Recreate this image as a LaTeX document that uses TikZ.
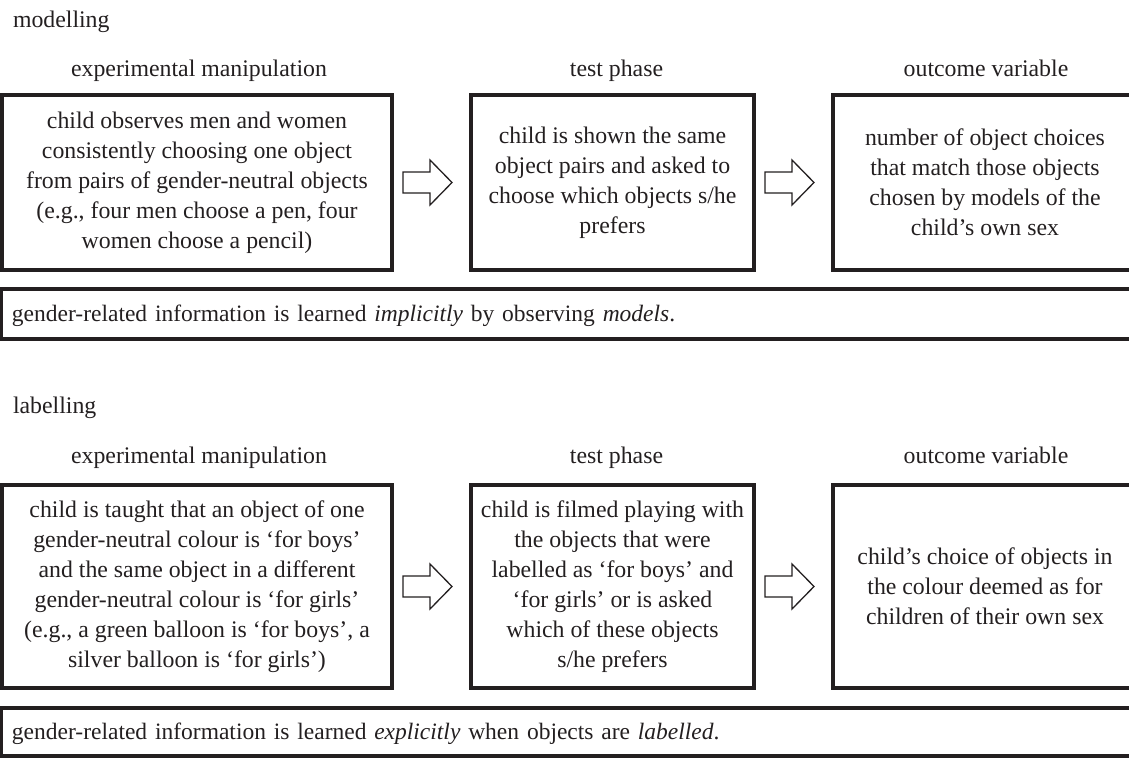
\documentclass[tikz,border=0pt]{standalone}
\usepackage{fontspec}
\setmainfont{Liberation Serif}
\usetikzlibrary{calc}
\definecolor{ink}{RGB}{35,31,32}
\begin{document}
\begin{tikzpicture}[x=1pt,y=-1pt,
  every node/.style={font=\fontsize{23.8}{30}\selectfont, text=ink, inner sep=0pt, outer sep=0pt},
  box/.style={draw=ink, line width=3.2pt, align=center},
  banner/.style={draw=ink, line width=3.2pt, anchor=west, align=left, text width=1117.5pt, inner xsep=10.5pt,
    font=\fontsize{23.5}{30}\selectfont, text height=17pt, text depth=3pt},
  head/.style={anchor=base},
  sect/.style={anchor=base west},
  blockarrow/.style={draw=ink, line width=1.3pt, line join=miter, fill=white}]
\useasboundingbox (0,0) rectangle (1129,758);
\clip (0,0) rectangle (1129,758);

% ---------- modelling ----------
\node[sect] (tm) at (13,27) {modelling};

\node[box, minimum width=390pt, minimum height=175pt] (m1) at (197,182.5)
  {child observes men and women\\consistently choosing one object\\from pairs of gender-neutral objects\\(e.g., four men choose a pen, four\\women choose a pencil)};
\node[box, minimum width=283pt, minimum height=175pt] (m2) at (612.5,182.5)
  {child is shown the same\\object pairs and asked to\\choose which objects s/he\\prefers};
\node[box, minimum width=304pt, minimum height=175pt] (m3) at (985,182.5)
  {number of object choices\\that match those objects\\chosen by models of the\\child’s own sex};

\node[head] (mh1) at ($(m1.north)+(2,-18.5)$) {experimental manipulation};
\node[head] (mh2) at ($(m2.north)+(4,-18.5)$) {test phase};
\node[head] (mh3) at ($(m3.north)+(1,-18.5)$) {outcome variable};

\node[banner, minimum height=50pt] (mb) at (1.5,314)
  {gender-related information is learned \textit{implicitly} by observing \textit{models}.};

\coordinate (ma1) at ($(m2.west)+(-19,0)$);
\coordinate (ma2) at ($(m3.west)+(-19,0)$);
\foreach \t in {ma1,ma2}{
  \draw[blockarrow] (\t) -- ++(-22,-22.5) -- ++(0,12) -- ++(-27,0) -- ++(0,21) -- ++(27,0) -- ++(0,12) -- cycle;
}

% ---------- labelling ----------
\node[sect] (tl) at (13,413) {labelling};

\node[box, minimum width=390pt, minimum height=203pt] (l1) at (197,586.5)
  {child is taught that an object of one\\gender-neutral colour is ‘for boys’\\and the same object in a different\\gender-neutral colour is ‘for girls’\\(e.g., a green balloon is ‘for boys’, a\\silver balloon is ‘for girls’)};
\node[box, minimum width=283pt, minimum height=203pt] (l2) at (612.5,586.5)
  {child is filmed playing with\\the objects that were\\labelled as ‘for boys’ and\\‘for girls’ or is asked\\which of these objects\\s/he prefers};
\node[box, minimum width=304pt, minimum height=203pt] (l3) at (985,586.5)
  {child’s choice of objects in\\the colour deemed as for\\children of their own sex};

\node[head] (lh1) at ($(l1.north)+(2,-22)$) {experimental manipulation};
\node[head] (lh2) at ($(l2.north)+(4,-22)$) {test phase};
\node[head] (lh3) at ($(l3.north)+(1,-22)$) {outcome variable};

\node[banner, minimum height=48pt] (lb) at (1.5,732)
  {gender-related information is learned \textit{explicitly} when objects are \textit{labelled}.};

\coordinate (la1) at ($(l2.west)+(-19,0)$);
\coordinate (la2) at ($(l3.west)+(-19,0)$);
\foreach \t in {la1,la2}{
  \draw[blockarrow] (\t) -- ++(-22,-22.5) -- ++(0,12) -- ++(-27,0) -- ++(0,21) -- ++(27,0) -- ++(0,12) -- cycle;
}
\end{tikzpicture}
\end{document}
